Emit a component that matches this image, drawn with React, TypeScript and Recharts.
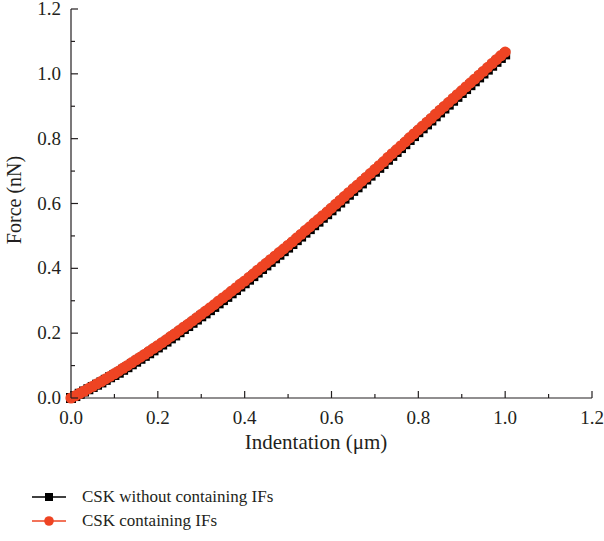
import React from "react";
import { Line, LineChart, XAxis, YAxis } from "recharts";

// indentation (µm), one marker every 0.01
const indentation = [
  0.0, 0.01, 0.02, 0.03, 0.04, 0.05, 0.06, 0.07, 0.08, 0.09,
  0.1, 0.11, 0.12, 0.13, 0.14, 0.15, 0.16, 0.17, 0.18, 0.19,
  0.2, 0.21, 0.22, 0.23, 0.24, 0.25, 0.26, 0.27, 0.28, 0.29,
  0.3, 0.31, 0.32, 0.33, 0.34, 0.35, 0.36, 0.37, 0.38, 0.39,
  0.4, 0.41, 0.42, 0.43, 0.44, 0.45, 0.46, 0.47, 0.48, 0.49,
  0.5, 0.51, 0.52, 0.53, 0.54, 0.55, 0.56, 0.57, 0.58, 0.59,
  0.6, 0.61, 0.62, 0.63, 0.64, 0.65, 0.66, 0.67, 0.68, 0.69,
  0.7, 0.71, 0.72, 0.73, 0.74, 0.75, 0.76, 0.77, 0.78, 0.79,
  0.8, 0.81, 0.82, 0.83, 0.84, 0.85, 0.86, 0.87, 0.88, 0.89,
  0.9, 0.91, 0.92, 0.93, 0.94, 0.95, 0.96, 0.97, 0.98, 0.99,
  1.0,
];

// force (nN), CSK without containing IFs
const forceWithout = [
  0, 0.006, 0.013, 0.02, 0.027, 0.034, 0.041, 0.048, 0.056, 0.064,
  0.071, 0.078, 0.087, 0.095, 0.104, 0.112, 0.121, 0.13, 0.138, 0.147,
  0.156, 0.165, 0.174, 0.184, 0.193, 0.203, 0.213, 0.222, 0.232, 0.242,
  0.252, 0.261, 0.271, 0.281, 0.292, 0.302, 0.312, 0.323, 0.333, 0.344,
  0.354, 0.365, 0.376, 0.387, 0.398, 0.409, 0.42, 0.431, 0.442, 0.453,
  0.464, 0.475, 0.487, 0.498, 0.51, 0.521, 0.533, 0.544, 0.556, 0.567,
  0.579, 0.591, 0.603, 0.615, 0.627, 0.639, 0.65, 0.662, 0.674, 0.686,
  0.698, 0.71, 0.722, 0.735, 0.747, 0.759, 0.771, 0.783, 0.796, 0.808,
  0.82, 0.832, 0.844, 0.856, 0.869, 0.881, 0.893, 0.905, 0.917, 0.929,
  0.941, 0.953, 0.965, 0.977, 0.989, 1.001, 1.013, 1.025, 1.037, 1.049,
  1.06,
];

// force (nN), CSK containing IFs
const forceWith = [
  0, 0.007, 0.014, 0.021, 0.029, 0.036, 0.044, 0.051, 0.059, 0.067,
  0.075, 0.083, 0.092, 0.1, 0.109, 0.118, 0.126, 0.135, 0.144, 0.153,
  0.162, 0.171, 0.18, 0.19, 0.199, 0.209, 0.219, 0.228, 0.238, 0.248,
  0.258, 0.268, 0.278, 0.288, 0.299, 0.309, 0.319, 0.33, 0.34, 0.351,
  0.361, 0.372, 0.383, 0.394, 0.405, 0.416, 0.427, 0.438, 0.449, 0.46,
  0.471, 0.482, 0.494, 0.505, 0.517, 0.528, 0.54, 0.551, 0.563, 0.574,
  0.586, 0.598, 0.61, 0.622, 0.634, 0.646, 0.657, 0.669, 0.681, 0.693,
  0.705, 0.717, 0.729, 0.742, 0.754, 0.766, 0.778, 0.79, 0.803, 0.815,
  0.827, 0.839, 0.851, 0.863, 0.876, 0.888, 0.9, 0.912, 0.924, 0.936,
  0.948, 0.96, 0.972, 0.984, 0.996, 1.008, 1.02, 1.032, 1.044, 1.056,
  1.067,
];

const axisTicks = [0, 0.1, 0.2, 0.3, 0.4, 0.5, 0.6, 0.7, 0.8, 0.9, 1.0, 1.1, 1.2];

const data = indentation.map((x, i) => ({
  x,
  without: forceWithout[i],
  with: forceWith[i],
}));

const INK = "#231f20";
const RED = "#ee4423";
const FONT = "'Liberation Serif', 'Times New Roman', serif";

const isMajor = (v: number) => Math.round(v * 10) % 2 === 0;

function XTick({ x, y, payload }: any) {
  const major = isMajor(payload.value);
  return (
    <g>
      <line x1={x} x2={x} y1={y} y2={y - (major ? 7 : 4)} stroke={INK} strokeWidth={1.2} />
      {major && (
        <text x={x} y={y + 26} textAnchor="middle" fill={INK} fontSize={19} fontFamily={FONT}>
          {payload.value.toFixed(1)}
        </text>
      )}
    </g>
  );
}

function YTick({ x, y, payload }: any) {
  const major = isMajor(payload.value);
  return (
    <g>
      <line x1={x} x2={x + (major ? 7 : 4)} y1={y} y2={y} stroke={INK} strokeWidth={1.2} />
      {major && (
        <text x={x - 10} y={y + 6} textAnchor="end" fill={INK} fontSize={19} fontFamily={FONT}>
          {payload.value.toFixed(1)}
        </text>
      )}
    </g>
  );
}

function SquareDot({ cx, cy }: any) {
  if (cx == null || cy == null) return null;
  return <rect x={cx - 5} y={cy - 5} width={10} height={10} fill="#000" />;
}

function CircleDot({ cx, cy }: any) {
  if (cx == null || cy == null) return null;
  return <circle cx={cx} cy={cy} r={5.6} fill={RED} />;
}

function LegendRow({ kind, label }: { kind: "square" | "circle"; label: string }) {
  const color = kind === "square" ? "#000" : RED;
  return (
    <div style={{ display: "flex", alignItems: "center", height: 24 }}>
      <svg width={34} height={14} style={{ marginRight: 16 }}>
        <line x1={0} x2={34} y1={7} y2={7} stroke={color} strokeWidth={1.5} />
        {kind === "square" ? (
          <rect x={13} y={3} width={8} height={8} fill={color} />
        ) : (
          <circle cx={17} cy={7} r={4.8} fill={color} />
        )}
      </svg>
      <span style={{ fontFamily: FONT, fontSize: 17, color: INK }}>{label}</span>
    </div>
  );
}

export default function App() {
  return (
    <div style={{ position: "absolute", left: 0, top: 0, width: 604, height: 541, background: "#fff" }}>
      <LineChart width={604} height={541} data={data} margin={{ top: 9, right: 12, left: 0, bottom: 0 }}>
        <XAxis
          dataKey="x"
          type="number"
          domain={[0, 1.2]}
          ticks={axisTicks}
          interval={0}
          height={143}
          tickLine={false}
          tickSize={0}
          tickMargin={0}
          tick={<XTick />}
          stroke={INK}
          strokeWidth={1.2}
          label={() => (
            <text x={316} y={449} textAnchor="middle" fill={INK} fontSize={21} fontFamily={FONT}>
              Indentation (μm)
            </text>
          )}
        />
        <YAxis
          type="number"
          domain={[0, 1.2]}
          ticks={axisTicks}
          interval={0}
          width={71}
          tickLine={false}
          tickSize={0}
          tickMargin={0}
          tick={<YTick />}
          stroke={INK}
          strokeWidth={1.2}
          label={() => (
            <text
              x={21}
              y={200}
              transform="rotate(-90, 21, 200)"
              textAnchor="middle"
              fill={INK}
              fontSize={20}
              fontFamily={FONT}
            >
              Force (nN)
            </text>
          )}
        />
        <Line
          dataKey="without"
          stroke="#000"
          strokeWidth={1}
          dot={<SquareDot />}
          activeDot={false}
          isAnimationActive={false}
        />
        <Line
          dataKey="with"
          stroke={RED}
          strokeWidth={1}
          dot={<CircleDot />}
          activeDot={false}
          isAnimationActive={false}
        />
      </LineChart>
      <div style={{ position: "absolute", left: 32, top: 485 }}>
        <LegendRow kind="square" label="CSK without containing IFs" />
        <LegendRow kind="circle" label="CSK containing IFs" />
      </div>
    </div>
  );
}
